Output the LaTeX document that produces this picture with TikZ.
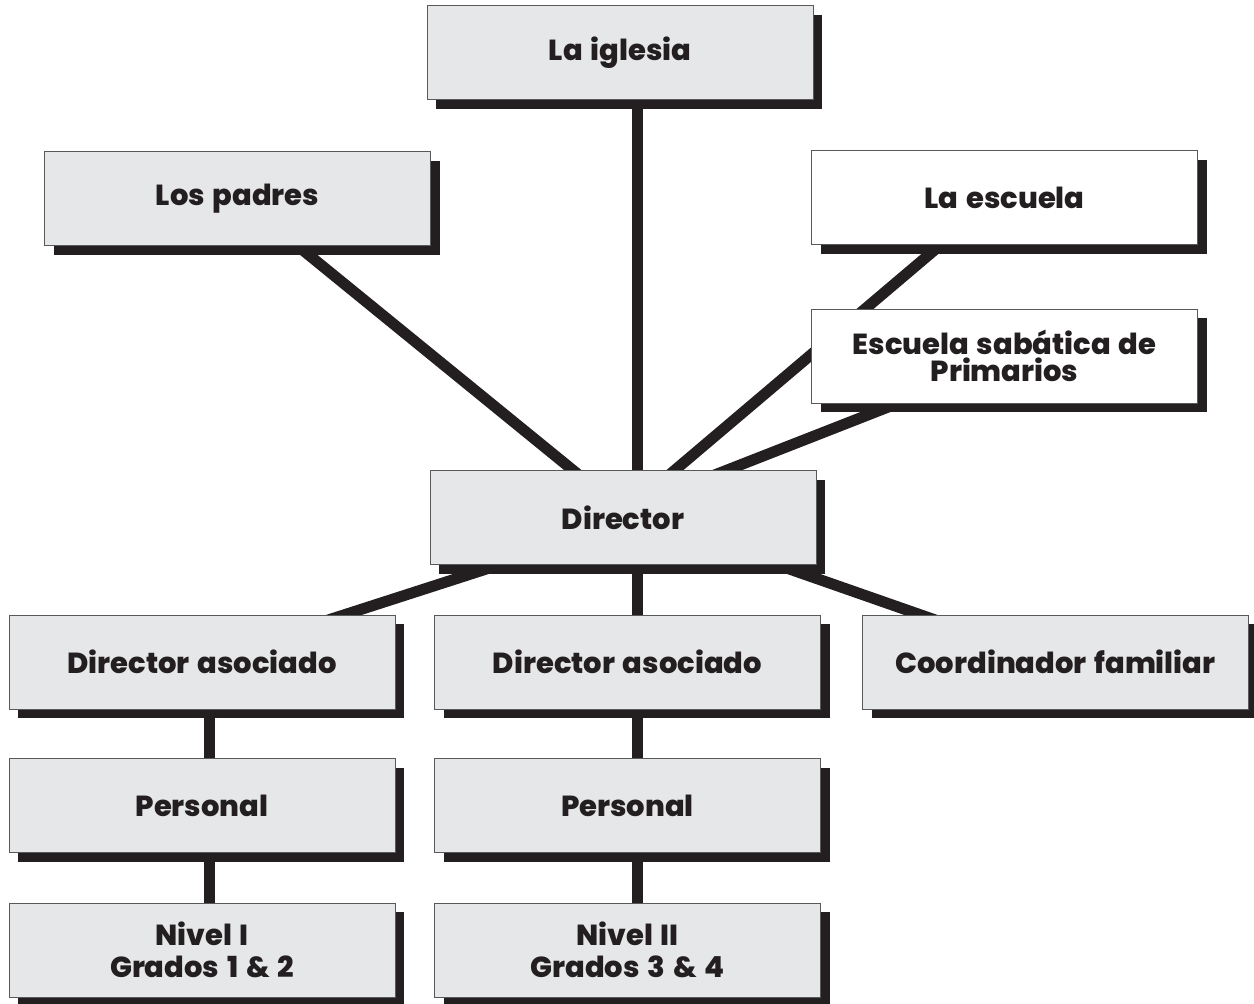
\documentclass[tikz,border=0pt]{standalone}
\usepackage{fontspec}
\setmainfont{Poppins}[BoldFont={Poppins ExtraBold}, WordSpace=1.4]
\usetikzlibrary{shadows,backgrounds,calc}
\definecolor{ink}{HTML}{231F20}
\definecolor{boxgray}{HTML}{E6E7E8}
\definecolor{edge}{HTML}{58595B}
\tikzset{
  box/.style={draw=edge, line width=1pt, fill=boxgray, minimum width=386pt, minimum height=94pt,
    inner sep=0pt, align=center, text=ink,
    font=\fontsize{29}{32}\selectfont\bfseries,
    drop shadow={shadow xshift=9pt, shadow yshift=-9pt, fill=ink, opacity=1}},
  whitebox/.style={box, fill=white},
  link/.style={draw=ink, line width=11pt}
}
\begin{document}
\begin{tikzpicture}[x=1pt,y=-1pt]
\useasboundingbox (0,0) rectangle (1254,1004);
\node[box] (iglesia) at (620,52.5) {La iglesia};
\node[box] (padres) at (237.5,198.5) {Los padres};
\node[whitebox] (escuela) at (1004.5,197.5) {La escuela};
\node[whitebox, font=\fontsize{29}{27}\selectfont\bfseries] (sab) at (1004.5,356) {Escuela sabática de\\Primarios};
\node[box] (dir) at (623,517.5) {Director};
\node[box] (asoc1) at (202,662) {Director asociado};
\node[box] (asoc2) at (627.5,662) {Director asociado};
\node[box] (coord) at (1055.5,662) {Coordinador familiar};
\node[box] (pers1) at (202,805.5) {Personal};
\node[box] (pers2) at (627.5,805.5) {Personal};
\node[box] (niv1) at (202,950) {Nivel I\\Grados 1 \& 2};
\node[box] (niv2) at (627.5,950) {Nivel II\\Grados 3 \& 4};
\coordinate (hub) at ($(dir.center)+(14,0)$);
\begin{scope}[on background layer]
\draw[link] (iglesia.center -| hub) -- (hub);
\draw[link] ([xshift=2pt]padres.center) -- ([xshift=8pt]dir.center);
\draw[link] ([xshift=-8pt]escuela.center) -- ([xshift=-4pt]dir.center);
\draw[link] ([xshift=14pt]sab.center) -- ([xshift=-17pt]dir.center);
\draw[link] ([xshift=-4pt]asoc1.center) -- ([xshift=23pt]dir.center);
\draw[link] (coord.center) -- ([xshift=19pt]dir.center);
\draw[link] (asoc2.center -| hub) -- (hub);
\draw[link] ([xshift=7pt]asoc1.center) -- ([xshift=7pt]niv1.center);
\draw[link] ([xshift=10pt]asoc2.center) -- ([xshift=10pt]niv2.center);
\end{scope}
\end{tikzpicture}
\end{document}
